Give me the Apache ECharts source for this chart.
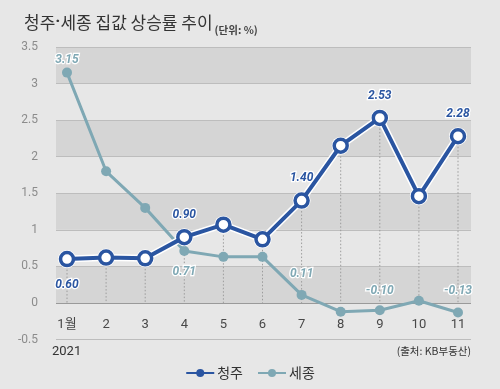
<!DOCTYPE html>
<html><head><meta charset="utf-8">
<script src="https://cdn.jsdelivr.net/npm/echarts@6/dist/echarts.min.js"></script>
<style>html,body{margin:0;padding:0;background:#e7e7e7;}#c{width:500px;height:389px;}</style>
</head><body><div id="c"></div>
<script>
// ---- data ----
const categories = ['1월','2','3','4','5','6','7','8','9','10','11'];
const cheongju = [0.60, 0.62, 0.61, 0.90, 1.07, 0.87, 1.40, 2.15, 2.53, 1.46, 2.28];
const sejong   = [3.15, 1.80, 1.30, 0.71, 0.63, 0.63, 0.11, -0.12, -0.10, 0.03, -0.13];
const cheongjuLabeled = [0, 3, 6, 8, 10];
const sejongLabeled   = [0, 3, 6, 8, 10];
const yTicks = { min: -0.5, max: 3.5, step: 0.5 };
const seriesNames = ['청주', '세종'];
const titleParts = ['청주', '·', '세종 집값 상승률 추이'];
const unitText = '(단위: %)';
const yearText = '2021';
const sourceText = '(출처: KB부동산)';

// ---- styles ----
const BLUE = '#2a55a1', TEAL = '#7fa8b4';
const labelFont = { fontFamily: 'Liberation Sans Narrow, Roboto, sans-serif', fontStyle: 'italic', fontWeight: 'bold', fontSize: 12, textBorderColor: '#fff', textBorderWidth: 2.5 };
const cjLabelPos = { 0: ['bottom', 12], 3: ['top', 8], 6: ['top', 8], 8: ['top', 8], 10: ['top', 8] };
const sjLabelPos = { 0: ['top', 2], 3: ['bottom', 10], 6: ['top', 10], 8: ['top', 8], 10: ['top', 10] };

function buildData(values, labeled, pos, color) {
  return values.map((v, i) => {
    const item = { value: v };
    if (labeled.includes(i)) {
      item.label = Object.assign({ show: true, position: pos[i][0], distance: pos[i][1], color: color,
        formatter: p => p.value.toFixed(2) }, labelFont);
    }
    return item;
  });
}

const chart = echarts.init(document.getElementById('c'), null, { renderer: 'canvas' });
const splitColors = [];
for (let v = yTicks.min; v <= yTicks.max + 1e-9; v += yTicks.step) splitColors.push(Math.abs(v) < 1e-9 ? '#9a9a9a' : '#bdbdbd');

const gridTop = 47, gridBottom = 49.5;
chart.setOption({
  backgroundColor: '#e7e7e7',
  animation: false,
  textStyle: { fontFamily: 'Roboto, "Noto Sans CJK KR", sans-serif' },
  title: {
    left: 19, top: 6,
    text: '{a|' + titleParts[0] + '}{d|' + titleParts[1] + '}{a|' + titleParts[2] + '}{b|' + unitText + '}',
    textStyle: { rich: {
      a: { fontSize: 17, color: '#333', fontFamily: '"Noto Sans CJK KR", sans-serif', fontWeight: 'normal', lineHeight: 24 },
      d: { fontSize: 17, color: '#333', fontFamily: 'Roboto, sans-serif', fontWeight: 'bold', lineHeight: 24 },
      b: { fontSize: 10.5, color: '#444', fontFamily: '"Noto Sans CJK KR", sans-serif', verticalAlign: 'bottom', lineHeight: 20, padding: [0,0,0,2] }
    } }
  },
  legend: {
    data: [
      { name: seriesNames[0], itemStyle: { color: BLUE, borderColor: BLUE, borderWidth: 0 } },
      { name: seriesNames[1], itemStyle: { color: TEAL, borderColor: TEAL, borderWidth: 0 } }
    ],
    left: 'center', top: 361, itemWidth: 28, itemHeight: 10, itemGap: 14,
    textStyle: { fontSize: 14, color: '#333', fontFamily: '"Noto Sans CJK KR", sans-serif', padding: [0,0,0,-2] }
  },
  grid: [
    { left: 56, right: 29, top: gridTop, bottom: gridBottom },
    { left: 67, right: 42, top: gridTop, bottom: gridBottom }
  ],
  xAxis: [
    { gridIndex: 0, type: 'value', show: false, min: 0, max: 1 },
    { gridIndex: 1, type: 'category', data: categories, boundaryGap: false,
      axisLine: { show: false }, axisTick: { show: false }, splitLine: { show: false },
      axisLabel: { margin: -21, fontSize: 13, color: '#484848' } }
  ],
  yAxis: [
    { gridIndex: 0, type: 'value', min: yTicks.min, max: yTicks.max, interval: yTicks.step,
      axisLine: { show: false }, axisTick: { show: false },
      axisLabel: { margin: 18, fontSize: 12, color: '#8c8c8c', formatter: v => String(v) },
      splitLine: { show: true, lineStyle: { color: splitColors, width: 1 } },
      splitArea: { show: true, areaStyle: { color: ['rgba(0,0,0,0)', '#d5d5d5'] } } },
    { gridIndex: 1, type: 'value', min: yTicks.min, max: yTicks.max, interval: yTicks.step, show: false, splitLine: { show: false } }
  ],
  series: [
    { type: 'custom', xAxisIndex: 1, yAxisIndex: 1, silent: true, z: 1,
      data: cheongju.map((v, i) => [i, v]),
      renderItem: (params, api) => {
        const p1 = api.coord([api.value(0), api.value(1)]);
        const p2 = api.coord([api.value(0), 0]);
        return { type: 'line', shape: { x1: p1[0], y1: p1[1], x2: p2[0], y2: p2[1] },
          style: { stroke: '#9c9c9c', lineWidth: 1, lineDash: [1.5, 2] } };
      } },
    { name: seriesNames[1], type: 'line', xAxisIndex: 1, yAxisIndex: 1, z: 3,
      data: buildData(sejong, sejongLabeled, sjLabelPos, TEAL),
      symbol: 'circle', symbolSize: 10, lineStyle: { color: TEAL, width: 3 },
      itemStyle: { color: TEAL } },
    { name: 'halo', type: 'line', xAxisIndex: 1, yAxisIndex: 1, z: 4, silent: true,
      data: cheongju, symbol: 'circle', symbolSize: 18, lineStyle: { color: '#fff', width: 7 },
      itemStyle: { color: '#fff' } },
    { name: seriesNames[0], type: 'line', xAxisIndex: 1, yAxisIndex: 1, z: 5,
      data: buildData(cheongju, cheongjuLabeled, cjLabelPos, BLUE),
      symbol: 'circle', symbolSize: 13, lineStyle: { color: BLUE, width: 4 },
      itemStyle: { color: '#fff', borderColor: BLUE, borderWidth: 3.5 } }
  ],
  graphic: [
    { type: 'text', left: 52, top: 345, style: { text: yearText, fontSize: 13, fill: '#333', fontFamily: 'Roboto, sans-serif' } },
    { type: 'text', right: 29, top: 346, style: { text: sourceText, fontSize: 10.5, fill: '#333', fontFamily: '"Noto Sans CJK KR", sans-serif' } }
  ]
});
</script></body></html>
